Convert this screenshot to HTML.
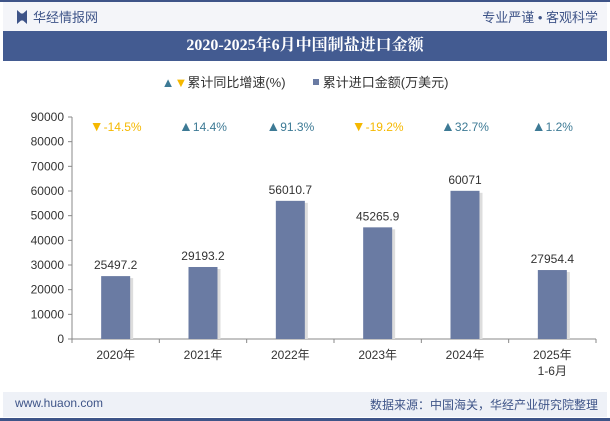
<!DOCTYPE html>
<html><head><meta charset="utf-8"><style>
body{margin:0;width:610px;height:421px;overflow:hidden;background:#fff;font-family:"Liberation Sans","Noto Sans CJK SC",sans-serif;position:relative}
.abs{position:absolute}
</style></head><body>
<div class="abs" style="left:0;top:0;width:610px;height:2px;background:#3e5488"></div>
<div class="abs" style="left:3px;top:2px;width:604px;height:29px;background:#f4f5f9"></div>
<div class="abs" style="left:17px;top:7px;font-size:13px;color:#3e5488">
<span style="display:inline-block;width:10px;height:14px;background:#3e5488;vertical-align:-2px;margin-right:6px;clip-path:polygon(0 0,40% 25%,60% 25%,100% 0,100% 100%,60% 75%,40% 75%,0 100%)"></span><span>华经情报网</span></div>
<div class="abs" style="right:12px;top:7px;font-size:13px;color:#3e5488">专业严谨 • 客观科学</div>
<div class="abs" style="left:3px;top:31px;width:604px;height:30px;background:#435b91;color:#fff;font-family:'Liberation Serif','Noto Serif CJK SC',serif;font-weight:bold;font-size:16px;text-align:center;line-height:30px"><span>2020-2025年6月中国制盐进口金额</span></div>
<div class="abs" style="left:0;top:72px;width:610px;text-align:center;font-size:13px;color:#333">
<span><span style="color:#3d7a95;font-size:13px">▲</span><span style="color:#f5b800;font-size:13px">▼</span>累计同比增速(%)</span>
<span style="margin-left:24px"><span style="display:inline-block;width:6px;height:6px;background:#6a7ba3;vertical-align:2px"></span> 累计进口金额(万美元)</span></div>
<svg class="abs" style="left:0;top:0" width="610" height="421" id="chart"></svg>
<div class="abs" style="left:3px;top:392px;width:604px;height:25px;background:#eef1f7"></div>
<div class="abs" style="left:15px;top:396px;font-size:12px;color:#3e5488">www.huaon.com</div>
<div class="abs" style="right:12px;top:396px;font-size:12px;color:#3e5488">数据来源：中国海关，华经产业研究院整理</div>
<div class="abs" style="left:0;top:418px;width:610px;height:3px;background:#3e5488"></div>
<script>
const categories=["2020年","2021年","2022年","2023年","2024年","2025年|1-6月"];
const amounts=[25497.2,29193.2,56010.7,45265.9,60071,27954.4];
const amountLabels=["25497.2","29193.2","56010.7","45265.9","60071","27954.4"];
const growth=[-14.5,14.4,91.3,-19.2,32.7,1.2];
const yTicks=[0,10000,20000,30000,40000,50000,60000,70000,80000,90000];
const svg=document.getElementById('chart');const NS='http://www.w3.org/2000/svg';
const X0=72,X1=596,Y0=339,Y1=117,YMAX=90000;
const band=(X1-X0)/categories.length;
const xc=i=>X0+band*(i+0.5);const y=v=>Y0-(v/YMAX)*(Y0-Y1);
function mk(t,a,txt){const e=document.createElementNS(NS,t);for(const k in a)e.setAttribute(k,a[k]);if(txt!==undefined)e.textContent=txt;svg.appendChild(e);return e;}
let ax=mk('line',{x1:X0,y1:Y1,x2:X0,y2:Y0,stroke:'#888'});
let bx=mk('line',{x1:X0,y1:Y0,x2:X1,y2:Y0,stroke:'#888'});
yTicks.forEach(v=>{let t=mk('line',{x1:X0-4,x2:X0,y1:y(v),y2:y(v),stroke:'#888'});
let l=mk('text',{x:X0-8,y:y(v)+4,'text-anchor':'end','font-size':12,fill:'#333','font-family':'Liberation Sans'},v);});
for(let i=0;i<=categories.length;i++){let t=mk('line',{x1:X0+band*i,x2:X0+band*i,y1:Y0,y2:Y0+4,stroke:'#888'});}
categories.forEach((c,i)=>{const bw=29;
let s=mk('rect',{x:xc(i)-bw/2+3,y:y(amounts[i])+2,width:bw,height:Y0-y(amounts[i])-2,fill:'#ddd'});
let b=mk('rect',{x:xc(i)-bw/2,y:y(amounts[i]),width:bw,height:Y0-y(amounts[i]),fill:'#6a7ba3'});
let v=mk('text',{x:xc(i),y:y(amounts[i])-7,'text-anchor':'middle','font-size':12,fill:'#333','font-family':'Liberation Sans'},amountLabels[i]);
const parts=c.split('|');parts.forEach((p,j)=>{let l=mk('text',{x:xc(i),y:Y0+20+j*16,'text-anchor':'middle','font-size':12,fill:'#333','font-family':'Liberation Sans,Noto Sans CJK SC'},p);});
const up=growth[i]>=0;let g=mk('text',{x:xc(i),y:131,'text-anchor':'middle','font-size':12,fill:up?'#3d7a95':'#f5b800','font-family':'Liberation Sans'});
const ts=document.createElementNS(NS,'tspan');ts.setAttribute('font-size','14');ts.textContent=up?'▲':'▼';g.appendChild(ts);
const tv=document.createElementNS(NS,'tspan');tv.textContent=growth[i].toFixed(1)+'%';g.appendChild(tv);});
</script>
</body></html>
